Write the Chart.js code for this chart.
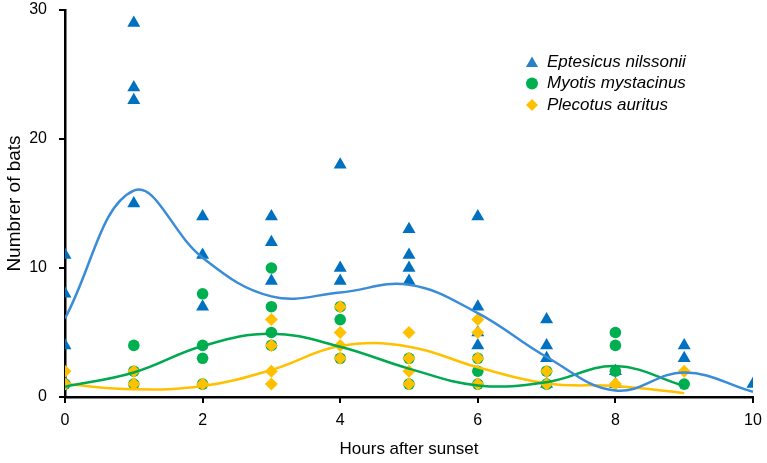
<!DOCTYPE html>
<html>
<head>
<meta charset="utf-8">
<script src="https://cdn.jsdelivr.net/npm/chart.js@4/dist/chart.umd.min.js"></script>
<style>
  html, body { margin: 0; padding: 0; background: #fff; }
  #wrap { width: 767px; height: 463px; }
</style>
</head>
<body>
<div id="wrap"><canvas id="bats" width="767" height="463"></canvas></div>
<script>
// observations: hour after sunset + number of bats
const eptHours  = [0, 0, 0, 1, 1, 1, 1, 2, 2, 2, 3, 3, 3, 4, 4, 4, 5, 5, 5, 5, 6, 6, 6, 6, 7, 7, 7, 7, 8, 8, 9, 9, 10];
const eptCounts = [11, 8, 4, 29, 24, 23, 15, 14, 11, 7, 14, 12, 9, 18, 10, 9, 13, 11, 10, 9, 14, 7, 5, 4, 6, 4, 3, 1, 2, 1, 4, 3, 1];

const myoHours  = [0, 1, 1, 1, 2, 2, 2, 2, 3, 3, 3, 3, 4, 4, 4, 5, 5, 6, 6, 6, 7, 7, 8, 8, 8, 9];
const myoCounts = [1, 4, 2, 1, 8, 4, 3, 1, 10, 7, 5, 4, 7, 6, 3, 3, 1, 3, 2, 1, 2, 1, 5, 4, 2, 1];

const pleHours  = [0, 0, 1, 1, 2, 3, 3, 3, 3, 4, 4, 4, 4, 5, 5, 5, 5, 6, 6, 6, 6, 7, 7, 8, 9];
const pleCounts = [2, 1, 2, 1, 1, 6, 4, 2, 1, 7, 5, 4, 3, 5, 3, 2, 1, 6, 5, 3, 1, 2, 1, 1, 2];

// smoothed trend lines
const trendHours = [0, 1, 2, 3, 4, 5, 6, 7, 8, 9, 10];
const eptTrend = [6.1, 16.0, 10.8, 7.8, 8.1, 8.7, 6.5, 3.1, 0.5, 1.9, 0.4];
const myoTrend = [0.8, 1.9, 3.95, 4.9, 3.9, 2.2, 0.9, 1.15, 2.4, 0.85];
const pleTrend = [1.0, 0.6, 0.85, 2.1, 3.95, 3.9, 2.3, 1.05, 0.85, 0.3];

const speciesNames = ['Eptesicus nilssonii', 'Myotis mystacinus', 'Plecotus auritus'];
const xTicks = [0, 2, 4, 6, 8, 10];
const yTicks = [0, 10, 20, 30];

const pts = (xs, ys) => xs.map((x, i) => ({ x: x, y: ys[i] }));

const FONT = "'Liberation Sans', Arial, sans-serif";

// outward tick marks on both axes
const tickMarks = {
    id: 'tickMarks',
    afterDraw: (chart) => {
        const ctx = chart.ctx;
        const xs = chart.scales.x, ys = chart.scales.y;
        ctx.save();
        ctx.strokeStyle = '#000';
        ctx.lineWidth = 2;
        ctx.beginPath();
        yTicks.forEach(v => {
            const py = Math.round(ys.getPixelForValue(v));
            ctx.moveTo(xs.left - 6, py);
            ctx.lineTo(xs.left, py);
        });
        xTicks.forEach(v => {
            const px = Math.round(xs.getPixelForValue(v));
            ctx.moveTo(px, ys.bottom);
            ctx.lineTo(px, ys.bottom + 6);
        });
        ctx.stroke();
        ctx.restore();
    }
};

const legendPlugin = {
    id: 'cornerLegend',
    afterDraw: (chart) => {
        const ctx = chart.ctx;
        const items = [
            { style: 'triangle', color: '#2a7fc6', r: 7 },
            { style: 'circle', color: '#00b050', r: 6 },
            { style: 'rectRot', color: '#ffc000', r: 6 }
        ];
        ctx.save();
        ctx.font = 'italic 17px ' + FONT;
        ctx.textBaseline = 'middle';
        items.forEach((it, i) => {
            const y = 62 + i * 21.5;
            ctx.fillStyle = it.color;
            ctx.strokeStyle = it.color;
            Chart.helpers.drawPoint(ctx, { pointStyle: it.style, radius: it.r, borderWidth: 0 }, 532, y + (it.style === 'triangle' ? 1.5 : 0));
            ctx.fillStyle = '#000';
            ctx.fillText(speciesNames[i], 547, y);
        });
        ctx.restore();
    }
};

const ctx = document.getElementById('bats').getContext('2d');
new Chart(ctx, {
    data: {
        datasets: [
            {
                type: 'line', data: pts(trendHours, eptTrend), borderColor: '#3a8cd8',
                borderWidth: 2.5, pointRadius: 0, tension: 0.4, fill: false, order: 0
            },
            {
                type: 'line', data: pts(trendHours, myoTrend), borderColor: '#00a84f',
                borderWidth: 2.5, pointRadius: 0, tension: 0.4, fill: false, order: 1
            },
            {
                type: 'line', data: pts(trendHours, pleTrend), borderColor: '#ffc000',
                borderWidth: 2.5, pointRadius: 0, tension: 0.4, fill: false, order: 2
            },
            {
                type: 'scatter', label: speciesNames[2], data: pts(pleHours, pleCounts),
                pointStyle: 'rectRot', pointRadius: 6.5, backgroundColor: '#ffc000',
                borderWidth: 0, order: 3
            },
            {
                type: 'scatter', label: speciesNames[1], data: pts(myoHours, myoCounts),
                pointStyle: 'circle', pointRadius: 5.8, backgroundColor: '#00b050',
                borderWidth: 0, order: 4
            },
            {
                type: 'scatter', label: speciesNames[0], data: pts(eptHours, eptCounts),
                pointStyle: 'triangle', pointRadius: 7.5, backgroundColor: '#0070c0',
                borderWidth: 0, order: 5
            }
        ]
    },
    options: {
        responsive: false,
        animation: false,
        layout: { padding: { top: 10, right: 14, left: 0, bottom: 0 } },
        plugins: {
            legend: { display: false },
            tooltip: { enabled: false }
        },
        scales: {
            x: {
                type: 'linear', min: 0, max: 10,
                afterFit: (s) => { s.height = 66; s.paddingLeft = 0; s.paddingRight = 0; },
                afterBuildTicks: (s) => { s.ticks = xTicks.map(v => ({ value: v })); },
                border: { display: true, color: '#000', width: 2.5 },
                grid: { drawOnChartArea: false, drawTicks: true, tickLength: 6, color: '#000', lineWidth: 2 },
                ticks: { color: '#000', font: { family: FONT, size: 16 }, padding: 8, maxRotation: 0 },
                title: {
                    display: true, text: 'Hours after sunset', color: '#000',
                    font: { family: FONT, size: 17 }, padding: { top: 0, bottom: 3 }
                }
            },
            y: {
                type: 'linear', min: 0, max: 30,
                afterFit: (s) => { s.width = 65; s.paddingTop = 0; s.paddingBottom = 0; },
                afterBuildTicks: (s) => { s.ticks = yTicks.map(v => ({ value: v })); },
                border: { display: true, color: '#000', width: 2.5 },
                grid: { drawOnChartArea: false, drawTicks: true, tickLength: 6, color: '#000', lineWidth: 2 },
                ticks: { color: '#000', font: { family: FONT, size: 16 }, padding: 12 },
                title: {
                    display: true, text: 'Numbrer of bats', color: '#000',
                    font: { family: FONT, size: 19 }, padding: { top: 3, bottom: 0 }
                }
            }
        }
    },
    plugins: [tickMarks, legendPlugin]
});
</script>
</body>
</html>
